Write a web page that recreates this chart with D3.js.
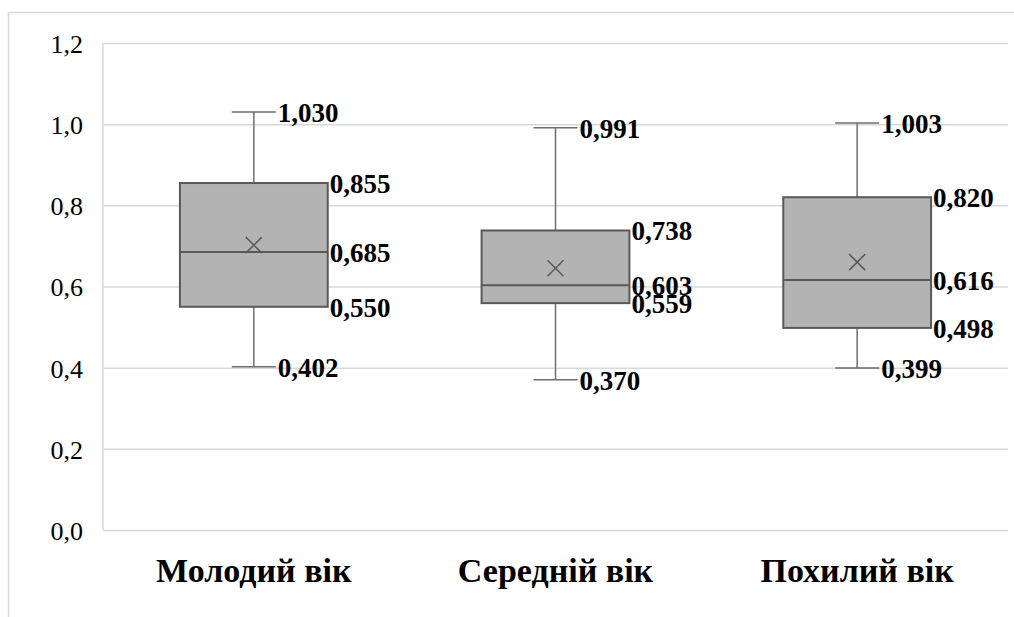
<!DOCTYPE html>
<html>
<head>
<meta charset="utf-8">
<script src="https://d3js.org/d3.v7.min.js"></script>
<style>
  body { margin: 0; background: #fff; }
  .tick text { font-family: "Liberation Serif", serif; font-size: 26px; fill: #000; }
  .val { font-family: "Liberation Serif", serif; font-size: 27px; font-weight: bold; fill: #000; }
  .cat { font-family: "Liberation Serif", serif; font-size: 34px; font-weight: bold; fill: #000; }
</style>
</head>
<body>
<script>
// data
var categories = ["Молодий вік", "Середній вік", "Похилий вік"];
var mins    = [0.402, 0.370, 0.399];
var q1      = [0.550, 0.559, 0.498];
var medians = [0.685, 0.603, 0.616];
var q3      = [0.855, 0.738, 0.820];
var maxs    = [1.030, 0.991, 1.003];
var means   = [0.702, 0.645, 0.660];
var yTicks  = [0, 0.2, 0.4, 0.6, 0.8, 1.0, 1.2];

var width = 1014, height = 617;
var plotL = 103, plotR = 1008, plotT = 43, plotB = 530;
var fmt = function(d, n) { return d.toFixed(n).replace(".", ","); };

var rows = categories.map(function(c, i) {
  return {cat: c, min: mins[i], q1: q1[i], med: medians[i], q3: q3[i], max: maxs[i], mean: means[i]};
});

var svg = d3.select("body").append("svg")
  .attr("width", width).attr("height", height);

// outer chart border (only top and left visible)
svg.append("rect").attr("x", 8.5).attr("y", 12.5)
  .attr("width", width + 10).attr("height", height + 10)
  .attr("fill", "none").attr("stroke", "#d9d9d9").attr("stroke-width", 1.5);

var x = d3.scaleBand().domain(categories).range([plotL, plotR]);
var y = d3.scaleLinear().domain([0, 1.2]).range([plotB, plotT]);

// gridlines + y labels
var yAxis = svg.append("g").attr("transform", "translate(" + plotL + ",0)")
  .call(d3.axisLeft(y).tickValues(yTicks).tickSize(-(plotR - plotL)).tickPadding(20)
    .tickFormat(function(d) { return fmt(d, 1); }));
yAxis.select(".domain").remove();
yAxis.selectAll(".tick line").attr("stroke", "#d9d9d9").attr("stroke-width", 1.5);
yAxis.selectAll(".tick text").attr("dy", "0.36em");

// left plot edge
svg.append("line").attr("x1", plotL).attr("x2", plotL).attr("y1", plotT).attr("y2", plotB)
  .attr("stroke", "#d9d9d9").attr("stroke-width", 1.5);

var boxW = x.bandwidth() * 0.49, capW = 22;
var g = svg.selectAll(".box").data(rows).enter().append("g").classed("box", true)
  .attr("transform", function(d) { return "translate(" + (x(d.cat) + x.bandwidth() / 2) + ",0)"; });

// whiskers
g.append("line").attr("x1", 0).attr("x2", 0)
  .attr("y1", function(d) { return y(d.max); }).attr("y2", function(d) { return y(d.q3); })
  .attr("stroke", "#6e6e6e").attr("stroke-width", 1.5);
g.append("line").attr("x1", 0).attr("x2", 0)
  .attr("y1", function(d) { return y(d.q1); }).attr("y2", function(d) { return y(d.min); })
  .attr("stroke", "#6e6e6e").attr("stroke-width", 1.5);
["max", "min"].forEach(function(k) {
  g.append("line").attr("x1", -capW).attr("x2", capW)
    .attr("y1", function(d) { return y(d[k]); }).attr("y2", function(d) { return y(d[k]); })
    .attr("stroke", "#6e6e6e").attr("stroke-width", 1.5);
});

// box
g.append("rect").attr("x", -boxW / 2).attr("width", boxW)
  .attr("y", function(d) { return y(d.q3); })
  .attr("height", function(d) { return y(d.q1) - y(d.q3); })
  .attr("fill", "#b3b3b3").attr("stroke", "#595959").attr("stroke-width", 2);

// median
g.append("line").attr("x1", -boxW / 2).attr("x2", boxW / 2)
  .attr("y1", function(d) { return y(d.med); }).attr("y2", function(d) { return y(d.med); })
  .attr("stroke", "#595959").attr("stroke-width", 2);

// mean marker
var m = 8;
g.append("path")
  .attr("d", function(d) {
    var cy = y(d.mean);
    return "M" + (-m) + "," + (cy - m) + "L" + m + "," + (cy + m) +
           "M" + (-m) + "," + (cy + m) + "L" + m + "," + (cy - m);
  })
  .attr("stroke", "#595959").attr("stroke-width", 1.5).attr("fill", "none");

// value labels
var labelKeys = [["max", capW + 2], ["q3", boxW / 2 + 2], ["med", boxW / 2 + 2], ["q1", boxW / 2 + 2], ["min", capW + 2]];
labelKeys.forEach(function(k) {
  g.append("text").classed("val", true)
    .attr("x", k[1])
    .attr("y", function(d) { return y(d[k[0]]); })
    .attr("dy", "0.36em")
    .text(function(d) { return fmt(d[k[0]], 3); });
});

// category labels
svg.selectAll(".cat").data(categories).enter().append("text").classed("cat", true)
  .attr("x", function(d) { return x(d) + x.bandwidth() / 2; })
  .attr("y", 582)
  .attr("text-anchor", "middle")
  .text(function(d) { return d; });
</script>
</body>
</html>
